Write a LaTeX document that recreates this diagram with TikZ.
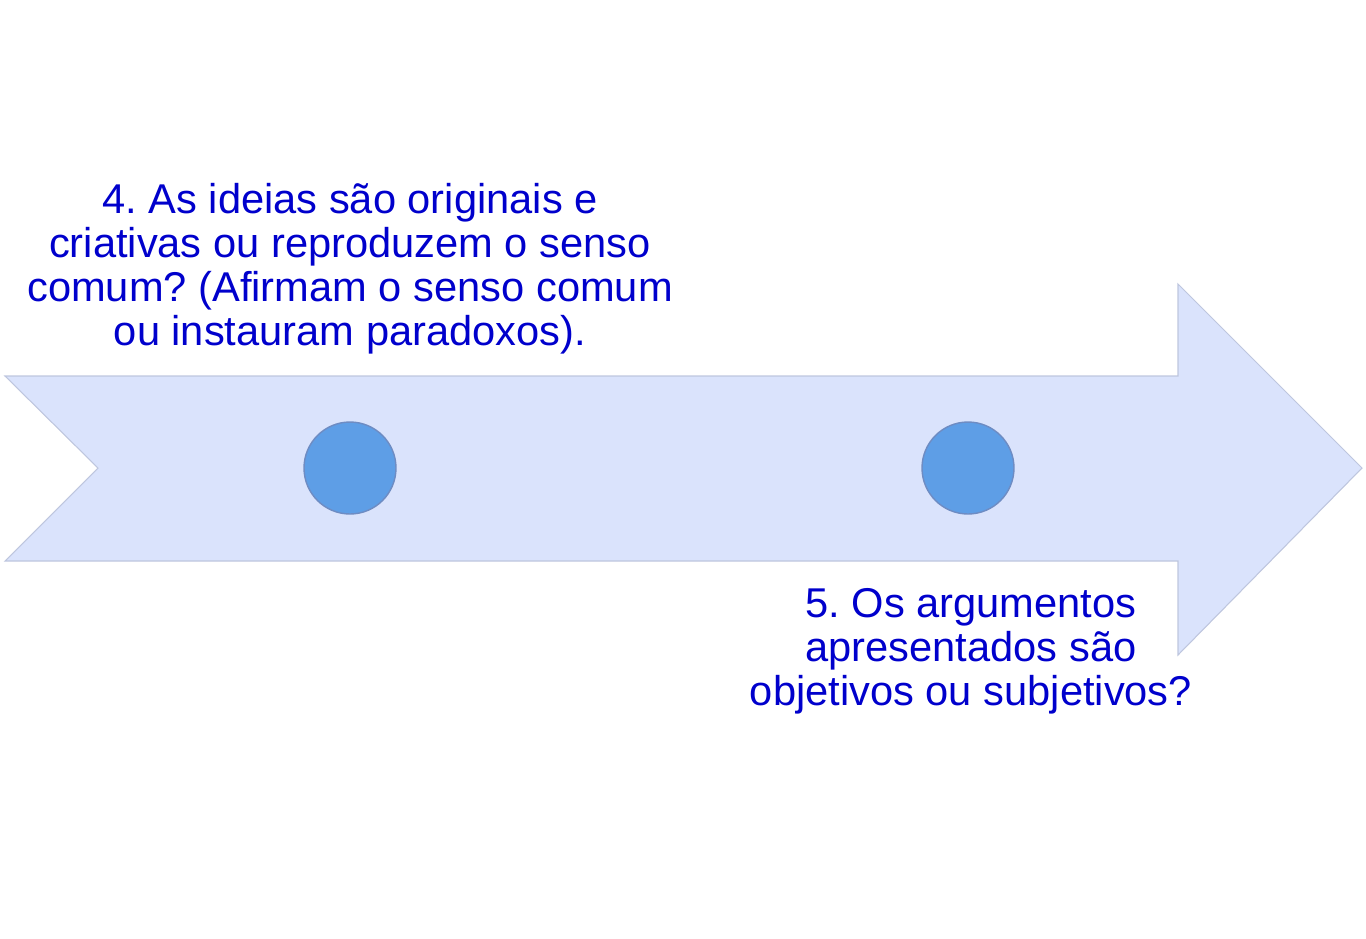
\documentclass[tikz,border=0pt]{standalone}
\usepackage{fontspec}
\setmainfont{Liberation Sans}
\usepackage{tikz}
\usetikzlibrary{positioning, calc}
\definecolor{arrowfill}{RGB}{218, 227, 252}
\definecolor{arrowedge}{RGB}{190, 198, 222}
\definecolor{dotfill}{RGB}{94, 158, 230}
\definecolor{dotedge}{RGB}{110, 140, 195}
\definecolor{textblue}{RGB}{0, 0, 204}
\frenchspacing

\begin{document}
\begin{tikzpicture}[x=0.02cm, y=-0.02cm,
        dot/.style={circle, fill=dotfill, draw=dotedge, line width=0.8pt, minimum size=1.84cm, inner sep=0pt},
        question/.style={align=center, text=textblue, font=\fontsize{23.7}{25}\selectfont, inner sep=0pt}]
        \useasboundingbox (0,0) rectangle (1366,938);
        % Arrow band
        \draw[fill=arrowfill, draw=arrowedge, line width=0.6pt, line join=miter]
                (5,376) -- (1178,376) -- (1178,284) -- (1362,468) -- (1178,655)
                -- (1178,561) -- (5,561) -- (98,468) -- cycle;

        % Dots on the band
        \foreach \x/\name in {350/dotfour, 968/dotfive} {
        \node[dot] (\name) at (\x,468) {};
        }

        % Questions
        \node[question] (qfour) at (350,269) {4. As ideias são originais e\\
                criativas ou reproduzem o senso\\
                comum? (Afirmam o senso comum\\
                ou instauram paradoxos).};
        \node[question] (qfive) at (971,651) {5. Os argumentos\\
                apresentados são\\
                objetivos ou subjetivos?};
    \end{tikzpicture}
\end{document}
